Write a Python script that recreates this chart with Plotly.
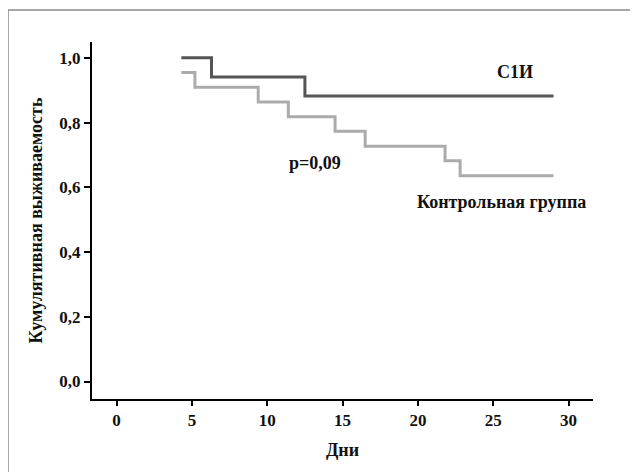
import plotly.graph_objects as go

# Data
c1i_days = [4.3, 6.3, 12.5, 29.0]
c1i_surv = [1.0, 0.941, 0.882, 0.882]
ctrl_days = [4.3, 5.2, 9.4, 11.4, 14.5, 16.5, 21.8, 22.8, 29.0]
ctrl_surv = [0.955, 0.909, 0.864, 0.818, 0.773, 0.727, 0.682, 0.636, 0.636]
x_ticks = [0, 5, 10, 15, 20, 25, 30]
y_ticks = [0.0, 0.2, 0.4, 0.6, 0.8, 1.0]
y_tick_labels = ["0,0", "0,2", "0,4", "0,6", "0,8", "1,0"]

FONT = "Liberation Serif, Times New Roman, DejaVu Serif, serif"

fig = go.Figure()
fig.add_trace(go.Scatter(x=ctrl_days, y=ctrl_surv, mode="lines", line_shape="hv",
                         line=dict(color="#ababab", width=3), showlegend=False,
                         hoverinfo="skip"))
fig.add_trace(go.Scatter(x=c1i_days, y=c1i_surv, mode="lines", line_shape="hv",
                         line=dict(color="#555555", width=3), showlegend=False,
                         hoverinfo="skip"))

ann_font = dict(family=FONT, size=18, color="#111111", weight="bold")
fig.add_annotation(x=26.44, y=0.957, text="С1И", showarrow=False, font=ann_font)
fig.add_annotation(x=25.58, y=0.555, text="Контрольная группа", showarrow=False, font=ann_font)
fig.add_annotation(x=13.17, y=0.675, text="p=0,09", showarrow=False, font=ann_font)

# outer frame
fig.add_shape(type="rect", xref="paper", yref="paper",
              x0=-0.1677, x1=1.2, y0=-0.3, y1=1.0896,
              line=dict(color="#8a8a8a", width=1.5), layer="below")

fig.update_layout(
    width=638, height=472,
    margin=dict(l=84, r=53, t=34, b=81),
    paper_bgcolor="white", plot_bgcolor="white",
    font=dict(family=FONT, color="#111111"),
    xaxis=dict(range=[-1.63, 31.62], tickvals=x_ticks, ticks="outside", ticklen=5,
               tickwidth=2, tickcolor="black", showline=True, linecolor="black",
               linewidth=2, showgrid=False, zeroline=False, automargin=False,
               tickfont=dict(family=FONT, size=17, weight="bold"),
               title=dict(text="Дни", font=dict(family=FONT, size=18, weight="bold"),
                          standoff=14)),
    yaxis=dict(range=[-0.054, 1.049], tickvals=y_ticks, ticktext=y_tick_labels,
               ticks="outside", ticklen=6, tickwidth=2, tickcolor="black",
               showline=True, linecolor="black", linewidth=2, showgrid=False,
               zeroline=False, automargin=False,
               tickfont=dict(family=FONT, size=17, weight="bold"),
               title=dict(text="Кумулятивная выживаемость",
                          font=dict(family=FONT, size=18, weight="bold"),
                          standoff=12)),
)

fig.write_html("out.html")
